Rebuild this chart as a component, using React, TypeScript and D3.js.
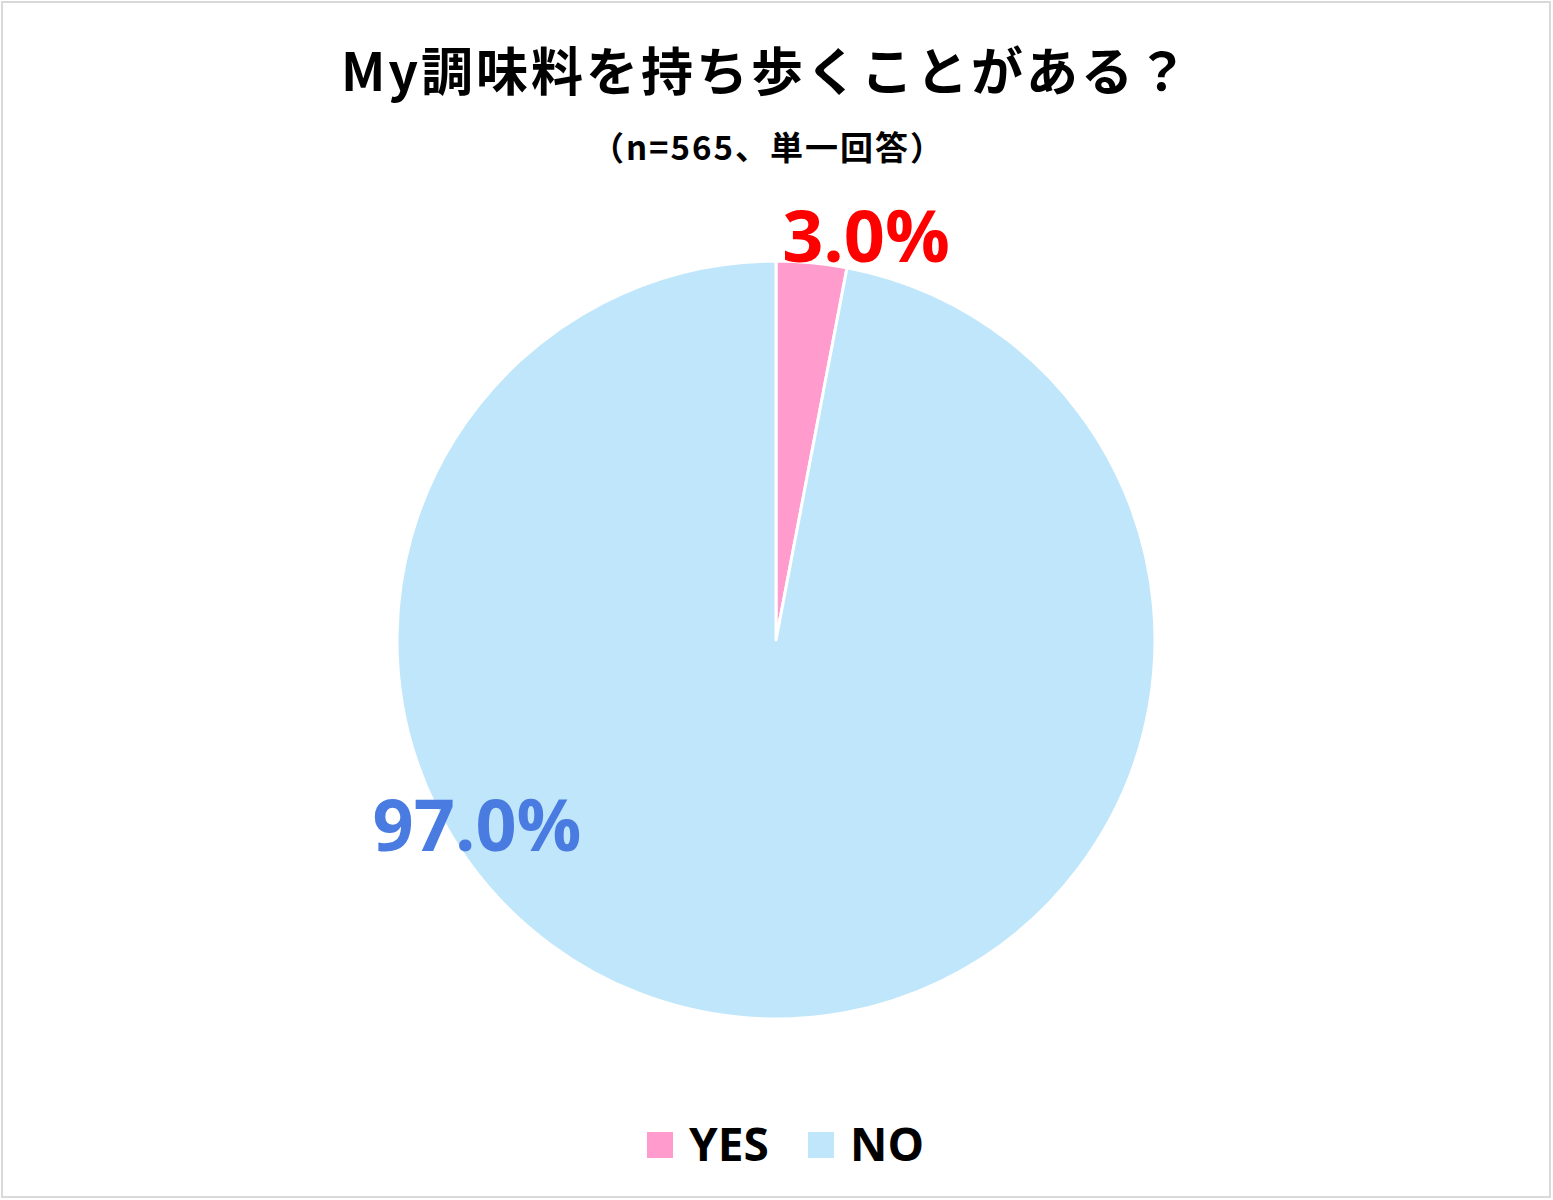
import React from "react";
import * as d3 from "d3";

const categories = ["YES", "NO"];
const values = [3.0, 97.0];
const labels = ["3.0%", "97.0%"];
const colors = ["#FF9BCD", "#BFE6FA"];
const labelColors = ["#FF0000", "#4A7BE0"];

const W = 1553;
const H = 1200;
const cx = 776;
const cy = 640;
const R = 379;

export default function App() {
  const pie = d3.pie<number>().sort(null).value((d) => d)(values);
  const arc = d3.arc<d3.PieArcDatum<number>>().innerRadius(0).outerRadius(R);
  const jp = "'Noto Sans CJK JP', 'Noto Sans', sans-serif";
  const num = "'Open Sans', 'Noto Sans', sans-serif";
  const labelPos = [
    { x: 866, y: 262 },
    { x: 477, y: 851 },
  ];
  return (
    <svg
      width={W}
      height={H}
      style={{ position: "absolute", left: 0, top: 0, background: "#fff" }}
    >
      <rect x={2} y={2} width={W - 5} height={H - 5} fill="#fff" stroke="#D9D9D9" strokeWidth={2} />
      <text x={766} y={91} textAnchor="middle" fontFamily={jp} fontWeight={700} fontSize={52} letterSpacing={3} fill="#000">
        My調味料を持ち歩くことがある？
      </text>
      <text x={768} y={160} textAnchor="middle" fontFamily={jp} fontWeight={700} fontSize={33} letterSpacing={2} fill="#000">
        （n=565、単一回答）
      </text>
      <g transform={`translate(${cx},${cy})`}>
        {pie.map((p, i) => (
          <path key={categories[i]} d={arc(p) || ""} fill={colors[i]} stroke="#fff" strokeWidth={3} strokeLinejoin="round" />
        ))}
      </g>
      {labels.map((l, i) => (
        <text
          key={l}
          x={labelPos[i].x}
          y={labelPos[i].y}
          textAnchor="middle"
          fontFamily={num}
          fontWeight={700}
          fontSize={72}
          fill={labelColors[i]}
        >
          {l}
        </text>
      ))}
      {categories.map((c, i) => {
        const lx = [647, 808][i];
        return (
          <g key={c}>
            <rect x={lx} y={1132} width={26} height={26} fill={colors[i]} />
            <text x={lx + 42} y={1161} fontFamily={num} fontWeight={700} fontSize={46} fill="#000">
              {c}
            </text>
          </g>
        );
      })}
    </svg>
  );
}
